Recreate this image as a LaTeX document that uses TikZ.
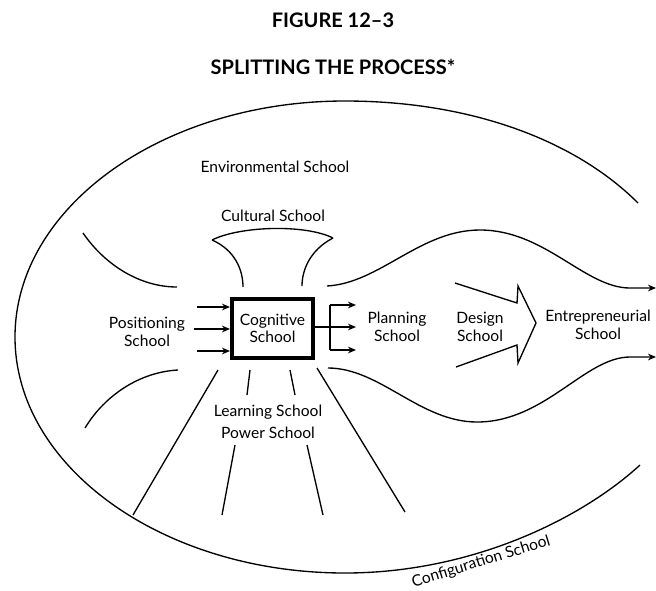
\documentclass[tikz,border=0pt]{standalone}
\usepackage{fontspec}
\setmainfont{Lato}
\usetikzlibrary{arrows.meta}
\begin{document}
\begin{tikzpicture}[x=0.75pt,y=-0.75pt,
  line/.style={draw=black,line width=1pt},
  arr/.style={line,-{Stealth[length=6pt,width=5pt]}},
  lbl/.style={align=center,font=\fontsize{11.7}{13.2}\selectfont,inner sep=0pt},
  ttl/.style={font=\fontsize{15}{17}\selectfont\bfseries,inner sep=0pt}]
\useasboundingbox (0,0) rectangle (656,590);
% titles
\node[ttl] (fig) at (333,20) {FIGURE 12–3};
\node[ttl] (sub) at (333,67) {SPLITTING THE PROCESS*};
% big oval (configuration)
\coordinate (otr) at (638,203);
\coordinate (obr) at (640,465);
\draw[line] (otr) .. controls (575,140) and (470,101) .. (345,101)
  .. controls (163,101) and (15,207) .. (15,337)
  .. controls (15,467) and (163,573) .. (345,573)
  .. controls (470,573) and (580,520) .. (obr);
% labels
\node[lbl] (env) at (275,167) {Environmental School};
\node[lbl] (cult) at (273,216) {Cultural School};
\node[lbl] (pos) at (147,332) {Positioning\\School};
\node[lbl] (plan) at (397,327) {Planning\\School};
\node[lbl] (des) at (480,327) {Design\\School};
\node[lbl] (ent) at (598,325) {Entrepreneurial\\School};
\node[lbl] (learn) at (268,412) {Learning School};
\node[lbl] (pow) at (268,433) {Power School};
\node[lbl,rotate=17] (conf) at (481,562) {Configuration School};
% cognitive box
\node[draw,line width=3pt,inner sep=0pt,
      minimum width=60.75pt,minimum height=44.25pt,lbl] (cog) at (272.5,328.5) {Cognitive\\School};
% cultural funnel
\coordinate (cl) at (212,240);
\coordinate (cr) at (333,238);
\draw[line] (cl) .. controls (240,226) and (305,224) .. (cr);
\draw[line] (cl) .. controls (235,250) and (243,270) .. (243,287);
\draw[line] (cr) .. controls (310,250) and (302,270) .. (302,286);
% left curves
\draw[line] (83,233) .. controls (105,265) and (140,287) .. (177,287);
\draw[line] (178,370) .. controls (140,372) and (105,395) .. (85,428);
% positioning arrows
\coordinate (pa1) at (197,307); \coordinate (pa2) at (194,329); \coordinate (pa3) at (197,351);
\draw[arr] (pa1) -- (pa1 -| cog.west);
\draw[arr] (pa2) -- (pa2 -| cog.west);
\draw[arr] (pa3) -- (pa3 -| cog.west);
% planning arrows
\coordinate (sp) at (330,327);
\draw[line] (cog.east |- sp) -- (sp);
\draw[line] (330,305) -- (330,350);
\draw[arr] (330,305) -- (356,305);
\draw[arr] (sp) -- (356,327);
\draw[arr] (330,350) -- (356,350);
% wavy channel
\draw[arr] (327,286) .. controls (380,283) and (420,230) .. (480,230) .. controls (545,230) and (585,288) .. (630,288) -- (656,288);
\draw[arr] (328,368) .. controls (380,368) and (420,422) .. (477,422) .. controls (545,422) and (585,357) .. (630,357) -- (656,357);
% design arrow
\draw[line,line join=miter] (455,283) -- (517,303) -- (518,286) -- (536,323) -- (518,363) -- (517,345) -- (456,367);
% radiating lines (learning/power)
\draw[line] (218,370) -- (133,515);
\draw[line] (250,370) -- (247,395);
\draw[line] (235,445) -- (222,515);
\draw[line] (290,370) -- (295,395);
\draw[line] (307,445) -- (323,515);
\draw[line] (317,368) -- (405,512);
\end{tikzpicture}
\end{document}
